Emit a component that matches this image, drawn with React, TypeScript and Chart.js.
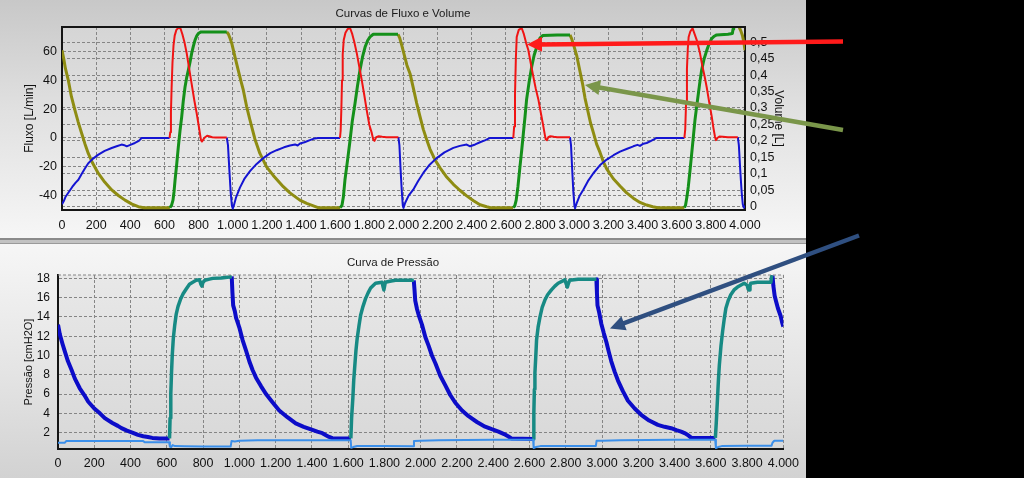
import React, { useEffect, useRef } from "react";
import { Chart, registerables } from "chart.js";

Chart.register(...registerables);

type P = [number, number];

const FONT = "'Liberation Sans', Arial, sans-serif";
const GRID = "#858585";

// ---------- tick labels ----------
const X_TICKS = ["0", "200", "400", "600", "800", "1.000", "1.200", "1.400", "1.600", "1.800", "2.000", "2.200", "2.400", "2.600", "2.800", "3.000", "3.200", "3.400", "3.600", "3.800", "4.000"];
const VOLUME_TICKS = ["0", "0,05", "0,1", "0,15", "0,2", "0,25", "0,3", "0,35", "0,4", "0,45", "0,5"];

// ---------- Flow, inspiration (red), [ms, L/min] ----------
const redI1: P[] = [[630, 0], [634, 4], [638, 18], [642, 35], [647, 52], [653, 64], [660, 71], [670, 75], [682, 76.5], [694, 76], [705, 72], [718, 66], [730, 59], [745, 48], [760, 37], [775, 26], [789, 17], [800, 9], [808, 3], [814, -1.5], [820, -2.5], [828, -1], [838, 0.5], [850, 1.5], [862, 1.2], [880, 0.5], [900, 0.3], [965, 0.3]];
const redI2: P[] = [[1628, 0], [1632, 5], [1636, 20], [1640, 40], [1644, 58], [1650, 68], [1660, 73], [1672, 75.5], [1687, 76.3], [1700, 72], [1713, 66], [1726, 59], [1740, 50], [1755, 40.5], [1770, 30], [1784, 19.7], [1800, 9], [1814, 3.5], [1823, -1.2], [1830, -2], [1840, 0.5], [1855, 1.2], [1875, 0.8], [1900, 0.5], [1970, 0.5]];
const redI3: P[] = [[2643, 0], [2648, 8], [2653, 30], [2658, 55], [2663, 70], [2675, 75], [2692, 76.3], [2705, 72], [2718, 66], [2731, 61], [2745, 52], [2760, 42.7], [2775, 34], [2790, 26.6], [2805, 17], [2819, 8], [2828, 2], [2833, -1], [2840, -1.5], [2848, 0.5], [2860, 1.2], [2880, 0.8], [2900, 0.5], [2975, 0.5]];
const redI4: P[] = [[3645, 0], [3650, 6], [3655, 25], [3660, 48], [3665, 62], [3670, 70], [3680, 74], [3693, 76], [3705, 72], [3720, 67], [3736, 59], [3750, 50], [3763, 43], [3776, 35], [3790, 25], [3805, 15], [3815, 7], [3824, 1], [3830, -1.5], [3838, 0], [3850, 1], [3870, 0.8], [3900, 0.5], [3958, 0.5]];

// ---------- Flow, expiration (blue), [ms, L/min] ----------
const blueE0: P[] = [[0, -46], [10, -44], [20, -41], [37, -38], [60, -34], [80, -31], [96, -29], [115, -25], [135, -21], [154, -17.5], [180, -14.5], [213, -11.6], [250, -9], [291, -7], [320, -5.8], [349, -4.6], [365, -5], [379, -5.8], [400, -4.8], [427, -3.5], [450, -2], [466, 0], [630, 0]];
const blueE1: P[] = [[965, 0.3], [972, -5], [980, -22], [988, -38], [995, -47], [1000, -49], [1006, -47], [1020, -41], [1042, -34.5], [1070, -28], [1101, -23], [1140, -18], [1179, -14], [1220, -10.5], [1257, -8.5], [1300, -6.5], [1335, -5.2], [1365, -4.5], [1380, -5.2], [1394, -3.8], [1420, -3], [1452, -1.5], [1480, -0.3], [1500, 0], [1628, 0]];
const blueE2: P[] = [[1970, 0.5], [1976, -5], [1983, -22], [1990, -37], [1996, -47], [2000, -48.5], [2010, -45], [2030, -40], [2057, -35.9], [2085, -30], [2116, -24.3], [2150, -19], [2194, -14], [2240, -10], [2292, -6.9], [2330, -5.5], [2370, -4.6], [2390, -5.8], [2420, -4.5], [2448, -3], [2480, -1.5], [2507, 0], [2643, 0]];
const blueE3: P[] = [[2975, 0.5], [2981, -5], [2988, -22], [2995, -38], [3001, -47], [3005, -48.8], [3015, -45], [3030, -40.5], [3053, -36], [3080, -30], [3112, -24.5], [3150, -19], [3190, -15], [3230, -12], [3268, -9.5], [3310, -7.5], [3346, -5.8], [3370, -4.8], [3385, -5.5], [3405, -4], [3424, -3.5], [3450, -2], [3483, 0], [3645, 0]];
const blueE4: P[] = [[3958, 0.5], [3964, -5], [3972, -22], [3980, -37], [3987, -46], [3993, -48.5], [4000, -47]];

// ---------- Volume, inspiration (green), [ms, L] ----------
const greenI1: P[] = [[632, -0.003], [642, 0.005], [650, 0.02], [656, 0.045], [662, 0.08], [672, 0.13], [681, 0.18], [691, 0.23], [701, 0.273], [710, 0.32], [720, 0.362], [730, 0.392], [740, 0.415], [750, 0.44], [759, 0.465], [769, 0.487], [779, 0.506], [790, 0.52], [800, 0.527], [815, 0.531], [965, 0.531]];
const greenI2: P[] = [[1630, -0.003], [1640, 0.005], [1648, 0.03], [1657, 0.081], [1672, 0.14], [1687, 0.202], [1700, 0.26], [1716, 0.314], [1730, 0.365], [1745, 0.415], [1760, 0.455], [1775, 0.485], [1790, 0.505], [1804, 0.516], [1823, 0.524], [1900, 0.524], [1968, 0.524]];
const greenI3: P[] = [[2643, -0.003], [2652, 0.003], [2660, 0.02], [2670, 0.06], [2682, 0.121], [2692, 0.17], [2702, 0.223], [2712, 0.275], [2721, 0.326], [2736, 0.38], [2751, 0.426], [2765, 0.46], [2780, 0.485], [2799, 0.512], [2815, 0.52], [2900, 0.522], [2975, 0.522]];
const greenI4: P[] = [[3645, -0.003], [3652, 0.005], [3660, 0.03], [3668, 0.061], [3678, 0.11], [3688, 0.162], [3698, 0.215], [3707, 0.263], [3717, 0.305], [3727, 0.344], [3736, 0.38], [3746, 0.415], [3760, 0.448], [3776, 0.475], [3790, 0.495], [3805, 0.511], [3820, 0.518], [3834, 0.522], [3900, 0.524], [3926, 0.526], [3930, 0.54], [3934, 0.55], [3958, 0.55]];

// ---------- Volume, expiration (olive), [ms, L] ----------
const oliveE0: P[] = [[0, 0.475], [10, 0.45], [20, 0.42], [37, 0.384], [55, 0.335], [76, 0.293], [95, 0.257], [115, 0.223], [135, 0.19], [154, 0.162], [180, 0.132], [213, 0.101], [250, 0.075], [291, 0.051], [330, 0.034], [369, 0.02], [410, 0.008], [447, 0.0], [480, -0.003], [632, -0.003]];
const oliveE1: P[] = [[965, 0.531], [975, 0.524], [985, 0.51], [995, 0.495], [1013, 0.455], [1032, 0.415], [1050, 0.378], [1062, 0.354], [1081, 0.305], [1100, 0.265], [1115, 0.235], [1130, 0.205], [1159, 0.162], [1198, 0.121], [1237, 0.095], [1296, 0.061], [1335, 0.042], [1393, 0.02], [1433, 0.01], [1480, 0.001], [1500, -0.003], [1630, -0.003]];
const oliveE2: P[] = [[1968, 0.524], [1978, 0.512], [1990, 0.49], [2005, 0.46], [2020, 0.43], [2038, 0.405], [2057, 0.362], [2077, 0.315], [2096, 0.275], [2116, 0.235], [2135, 0.205], [2155, 0.175], [2185, 0.142], [2214, 0.118], [2250, 0.092], [2292, 0.068], [2330, 0.05], [2370, 0.033], [2410, 0.018], [2448, 0.006], [2487, 0], [2510, -0.003], [2643, -0.003]];
const oliveE3: P[] = [[2975, 0.522], [2985, 0.51], [3000, 0.485], [3014, 0.46], [3034, 0.41], [3050, 0.37], [3063, 0.33], [3080, 0.29], [3095, 0.255], [3112, 0.225], [3131, 0.19], [3151, 0.165], [3170, 0.137], [3190, 0.115], [3229, 0.085], [3268, 0.063], [3307, 0.042], [3346, 0.026], [3385, 0.013], [3424, 0.005], [3460, 0], [3490, -0.003], [3645, -0.003]];
const oliveE4: P[] = [[3958, 0.55], [3966, 0.545], [3975, 0.535], [3985, 0.52], [3993, 0.5], [4000, 0.475]];

// ---------- Pressure, inspiration (teal), [ms, cmH2O] ----------
const tealI1: P[] = [[615, 1.4], [618, 3.5], [622, 6], [626, 8.2], [630, 10], [636, 11.8], [644, 13.2], [652, 14.3], [662, 15.1], [675, 15.8], [690, 16.4], [707, 16.9], [725, 17.4], [743, 17.6], [762, 17.8], [780, 17.85], [788, 17.4], [793, 17.2], [800, 17.6], [810, 17.8], [830, 17.9], [853, 18.0], [900, 18.05], [945, 18.15], [958, 18.2]];
const tealI2: P[] = [[1615, 1.4], [1619, 3.5], [1626, 5.6], [1631, 7.5], [1637, 9.0], [1643, 10.5], [1650, 11.8], [1660, 13.1], [1669, 14.2], [1682, 15.1], [1696, 15.9], [1710, 16.5], [1724, 17.0], [1751, 17.5], [1787, 17.6], [1793, 17.1], [1797, 16.8], [1801, 17.2], [1805, 17.6], [1830, 17.7], [1861, 17.8], [1952, 17.8], [1962, 17.8]];
const tealI3: P[] = [[2621, 1.35], [2624, 4], [2627, 6.5], [2630, 8.2], [2635, 10], [2639, 11.6], [2648, 13], [2658, 14.0], [2670, 15], [2685, 15.75], [2700, 16.3], [2721, 16.8], [2740, 17.2], [2758, 17.5], [2795, 17.85], [2803, 17.4], [2809, 17.1], [2815, 17.5], [2822, 17.8], [2868, 17.9], [2960, 17.9], [2969, 17.9]];
const tealI4: P[] = [[3625, 1.45], [3630, 3], [3637, 5.6], [3642, 7.5], [3647, 9.0], [3656, 11], [3665, 12.5], [3674, 13.8], [3683, 14.9], [3696, 15.7], [3710, 16.3], [3728, 16.8], [3747, 17.1], [3784, 17.5], [3800, 17.3], [3806, 16.9], [3811, 16.8], [3816, 17.2], [3820, 17.5], [3857, 17.6], [3931, 17.6], [3936, 18.3], [3940, 18.3]];

// ---------- Pressure, expiration (dark blue), [ms, cmH2O] ----------
const darkE0: P[] = [[0, 13.2], [10, 12.2], [25, 11.2], [38, 10.4], [55, 9.4], [75, 8.5], [93, 7.6], [120, 6.6], [145, 5.9], [167, 5.2], [200, 4.5], [231, 4.0], [258, 3.5], [300, 3.0], [330, 2.7], [350, 2.46], [380, 2.2], [410, 2.0], [441, 1.76], [470, 1.62], [496, 1.55], [520, 1.45], [560, 1.4], [615, 1.4]];
const darkE1: P[] = [[958, 18.2], [962, 16.5], [966, 15.2], [975, 14.6], [982, 13.9], [991, 13.4], [1000, 12.9], [1018, 11.6], [1037, 10.5], [1055, 9.4], [1073, 8.5], [1092, 7.7], [1120, 6.8], [1147, 6.0], [1185, 5.1], [1220, 4.3], [1265, 3.6], [1311, 2.95], [1355, 2.6], [1403, 2.28], [1430, 2.1], [1458, 1.94], [1480, 1.7], [1495, 1.55], [1513, 1.42], [1615, 1.4]];
const darkE2: P[] = [[1962, 17.8], [1966, 16.8], [1970, 15.7], [1980, 14.8], [1989, 14.2], [2007, 13.2], [2026, 11.9], [2044, 11.0], [2062, 10.0], [2081, 9.2], [2108, 7.9], [2136, 6.9], [2163, 5.9], [2191, 5.1], [2228, 4.3], [2264, 3.7], [2310, 3.1], [2355, 2.62], [2392, 2.35], [2429, 2.1], [2460, 1.85], [2484, 1.6], [2502, 1.38], [2621, 1.35]];
const darkE3: P[] = [[2969, 17.9], [2972, 16.5], [2975, 15.2], [2985, 14.4], [2996, 13.3], [3010, 12.3], [3024, 11.4], [3037, 10.4], [3051, 9.4], [3070, 8.3], [3088, 7.4], [3115, 6.3], [3143, 5.3], [3180, 4.5], [3216, 3.85], [3260, 3.25], [3308, 2.8], [3345, 2.6], [3381, 2.46], [3410, 2.25], [3436, 2.1], [3455, 1.95], [3473, 1.76], [3491, 1.48], [3625, 1.45]];
const darkE4: P[] = [[3940, 18.3], [3945, 17.2], [3952, 16.2], [3960, 15.6], [3970, 14.9], [3985, 14.1], [3995, 13.3], [4000, 13.0]];

// ---------- Pressure, baseline (light blue), [ms, cmH2O] ----------
const lightLine: P[] = [[0, 0.95], [38, 0.95], [45, 1.12], [470, 1.12], [478, 1.0], [613, 1.0], [617, 0.55], [624, 0.5], [632, 0.7], [645, 0.6], [700, 0.58], [800, 0.55], [952, 0.55], [957, 1.12], [975, 1.08], [1000, 1.15], [1100, 1.2], [1400, 1.22], [1614, 1.22], [1617, 0.42], [1628, 0.5], [1650, 0.62], [1800, 0.6], [1958, 0.58], [1963, 1.12], [2000, 1.15], [2100, 1.22], [2400, 1.25], [2620, 1.25], [2623, 0.4], [2635, 0.5], [2660, 0.6], [2800, 0.62], [2966, 0.62], [2970, 1.15], [3000, 1.15], [3100, 1.2], [3400, 1.25], [3624, 1.25], [3628, 0.4], [3640, 0.5], [3660, 0.6], [3800, 0.63], [3935, 0.65], [3940, 0.95], [3950, 1.15], [4000, 1.15]];

function join(...phases: P[][]) {
  const out: { x: number; y: number | null }[] = [];
  phases.forEach((ph, i) => {
    if (i > 0) out.push({ x: ph[0][0] - 0.5, y: null });
    ph.forEach(([x, y]) => out.push({ x, y }));
  });
  return out;
}

const plotBg = {
  id: "plotBg",
  beforeDraw(chart: any, _a: any, opts: any) {
    const { ctx, chartArea: a } = chart;
    const g = ctx.createLinearGradient(0, a.top, 0, a.bottom);
    g.addColorStop(0, opts.top);
    g.addColorStop(1, opts.bottom);
    ctx.save();
    ctx.fillStyle = g;
    ctx.fillRect(a.left, a.top, a.right - a.left, a.bottom - a.top);
    ctx.restore();
  },
};

const frameTop = {
  id: "frameTop",
  afterDatasetsDraw(chart: any, _a: any, opts: any) {
    const { ctx, chartArea: a } = chart;
    ctx.save();
    ctx.strokeStyle = opts.color;
    ctx.lineWidth = opts.width;
    ctx.setLineDash(opts.dash || []);
    ctx.beginPath();
    ctx.moveTo(a.left, a.top);
    ctx.lineTo(a.right, a.top);
    ctx.stroke();
    ctx.restore();
  },
};

const tickFont = { size: 12.5, family: FONT };
const tickFontB = { size: 12, family: FONT };
const titleFont = { size: 11.5, family: FONT, weight: "normal" as const };
const axisTitleFont = { size: 12, family: FONT, weight: "normal" as const };
const axisTitleFontB = { size: 11, family: FONT, weight: "normal" as const };
const TXT = "#111";

function xAxis(pad: number) {
  return {
    type: "linear" as const,
    position: "bottom" as const,
    min: 0,
    max: 4000,
    afterFit: (s: any) => { s.height = 29; },
    ticks: {
      stepSize: 200, autoSkip: false, maxRotation: 0, padding: pad, color: TXT, font: tickFont,
      callback: (v: any) => X_TICKS[Math.round(Number(v) / 200)] ?? "",
    },
    grid: { color: GRID, lineWidth: 1, drawTicks: false },
    border: { display: true, color: "#141414", width: 2, dash: [3, 2] },
  };
}

function line(data: any, color: string, width: number, axis: string) {
  return {
    data, borderColor: color, backgroundColor: color, borderWidth: width, pointRadius: 0,
    tension: 0, fill: false, spanGaps: false, yAxisID: axis, borderJoinStyle: "round" as const,
  };
}

function TopChart() {
  const ref = useRef<HTMLCanvasElement>(null);
  useEffect(() => {
    const chart = new Chart(ref.current!, {
      type: "line",
      data: {
        datasets: [
          line(join(redI1, redI2, redI3, redI4), "#f01414", 2, "y"),
          line(join(blueE0, blueE1, blueE2, blueE3, blueE4), "#1414d2", 2, "y"),
          line(join(greenI1, greenI2, greenI3, greenI4), "#14901a", 3, "y1"),
          line(join(oliveE0, oliveE1, oliveE2, oliveE3, oliveE4), "#8e8c12", 3, "y1"),
        ] as any,
      },
      plugins: [plotBg, frameTop],
      options: {
        responsive: false,
        animation: false,
        events: [],
        layout: { padding: 0 },
        scales: {
          x: xAxis(8) as any,
          y: {
            type: "linear", position: "left", min: -50, max: 77,
            afterFit: (s: any) => { s.width = 62; },
            ticks: { stepSize: 20, includeBounds: false, padding: 5, color: TXT, font: tickFont },
            title: { display: true, text: "Fluxo [L/min]", color: TXT, font: axisTitleFont, padding: { top: 22.8, bottom: 0 } },
            grid: { color: GRID, lineWidth: 1, drawTicks: false },
            border: { display: true, color: "#141414", width: 2, dash: [3, 2] },
          },
          y1: {
            type: "linear", position: "right", min: -0.01, max: 0.546,
            afterFit: (s: any) => { s.width = 61; },
            ticks: {
              stepSize: 0.05, includeBounds: false, padding: 5, color: TXT, font: tickFont,
              callback: (v: any) => VOLUME_TICKS[Math.round(Number(v) / 0.05)] ?? "",
            },
            title: { display: true, text: "Volume [L]", color: TXT, font: axisTitleFont, padding: { top: 20.8, bottom: 0 } },
            grid: { color: GRID, lineWidth: 1, drawTicks: false },
            border: { display: true, color: "#141414", width: 2, dash: [3, 2] },
          },
        },
        plugins: {
          legend: { display: false },
          tooltip: { enabled: false },
          title: { display: true, text: "Curvas de Fluxo e Volume", color: "#1a1a1a", font: titleFont, padding: { top: 7.1, bottom: 6.1 } },
          plotBg: { top: "#d5d5d5", bottom: "#ededed" },
          frameTop: { color: "#141414", width: 2 },
        } as any,
      },
    });
    return () => chart.destroy();
  }, []);
  return <canvas ref={ref} width={806} height={239} style={{ position: "absolute", left: 0, top: 0, width: 806, height: 239 }} />;
}

function BottomChart() {
  const ref = useRef<HTMLCanvasElement>(null);
  useEffect(() => {
    const chart = new Chart(ref.current!, {
      type: "line",
      data: {
        datasets: [
          line(join(lightLine), "#3b8fea", 2, "y"),
          line(join(tealI1, tealI2, tealI3, tealI4), "#178a84", 3.5, "y"),
          line(join(darkE0, darkE1, darkE2, darkE3, darkE4), "#0c0cc8", 4, "y"),
        ] as any,
      },
      plugins: [plotBg, frameTop],
      options: {
        responsive: false,
        animation: false,
        events: [],
        layout: { padding: { right: 20 } },
        scales: {
          x: xAxis(7) as any,
          y: {
            type: "linear", position: "left", min: 0.3, max: 18.35,
            afterFit: (s: any) => { s.width = 58; },
            ticks: { stepSize: 2, includeBounds: false, padding: 8, color: TXT, font: tickFontB },
            title: { display: true, text: "Pressão [cmH2O]", color: TXT, font: axisTitleFontB, padding: { top: 22, bottom: 0 } },
            grid: { color: GRID, lineWidth: 1, drawTicks: false },
            border: { display: true, color: "#141414", width: 2, dash: [3, 2] },
          },
        },
        plugins: {
          legend: { display: false },
          tooltip: { enabled: false },
          title: { display: true, text: "Curva de Pressão", color: "#1a1a1a", font: titleFont, padding: { top: 11.8, bottom: 5.4 } },
          plotBg: { top: "#e8e8e8", bottom: "#d8d8d8" },
          frameTop: { color: GRID, width: 1, dash: [3, 2] },
        } as any,
      },
    });
    return () => chart.destroy();
  }, []);
  return <canvas ref={ref} width={806} height={234} style={{ position: "absolute", left: 0, top: 244, width: 806, height: 234 }} />;
}

function Arrow({ x1, y1, x2, y2, color }: { x1: number; y1: number; x2: number; y2: number; color: string }) {
  const dx = x2 - x1, dy = y2 - y1;
  const len = Math.hypot(dx, dy);
  const ux = dx / len, uy = dy / len;
  const hl = 15, hw = 7.5;
  const bx = x2 - ux * hl, by = y2 - uy * hl;
  const pts = `${x2},${y2} ${bx - uy * hw},${by + ux * hw} ${bx + uy * hw},${by - ux * hw}`;
  return (
    <g>
      <line x1={x1} y1={y1} x2={bx + ux * 2} y2={by + uy * 2} stroke={color} strokeWidth={4.5} />
      <polygon points={pts} fill={color} />
    </g>
  );
}

export default function App() {
  return (
    <div style={{ position: "fixed", left: 0, top: 0, width: 1024, height: 478, background: "#000", overflow: "hidden" }}>
      <div style={{ position: "absolute", left: 0, top: 0, width: 806, height: 239, background: "linear-gradient(180deg, #c8c8c8 0%, #e0e0e0 45%, #f6f6f6 100%)" }} />
      <div style={{ position: "absolute", left: 0, top: 238, width: 806, height: 6, boxSizing: "border-box", background: "#c2c2c2", borderTop: "2px solid #8a8a8a", borderBottom: "1px solid #9a9a9a" }} />
      <div style={{ position: "absolute", left: 0, top: 244, width: 806, height: 234, background: "linear-gradient(180deg, #f6f6f6 0%, #e4e4e4 55%, #d2d2d2 100%)" }} />
      <TopChart />
      <BottomChart />
      <svg width={1024} height={478} style={{ position: "absolute", left: 0, top: 0, pointerEvents: "none" }}>
        <Arrow x1={843} y1={41.5} x2={527} y2={44.5} color="#ff1a1a" />
        <Arrow x1={843} y1={130} x2={585} y2={85} color="#7a964a" />
        <Arrow x1={859} y1={235.5} x2={610} y2={328.5} color="#2f4f80" />
      </svg>
    </div>
  );
}
